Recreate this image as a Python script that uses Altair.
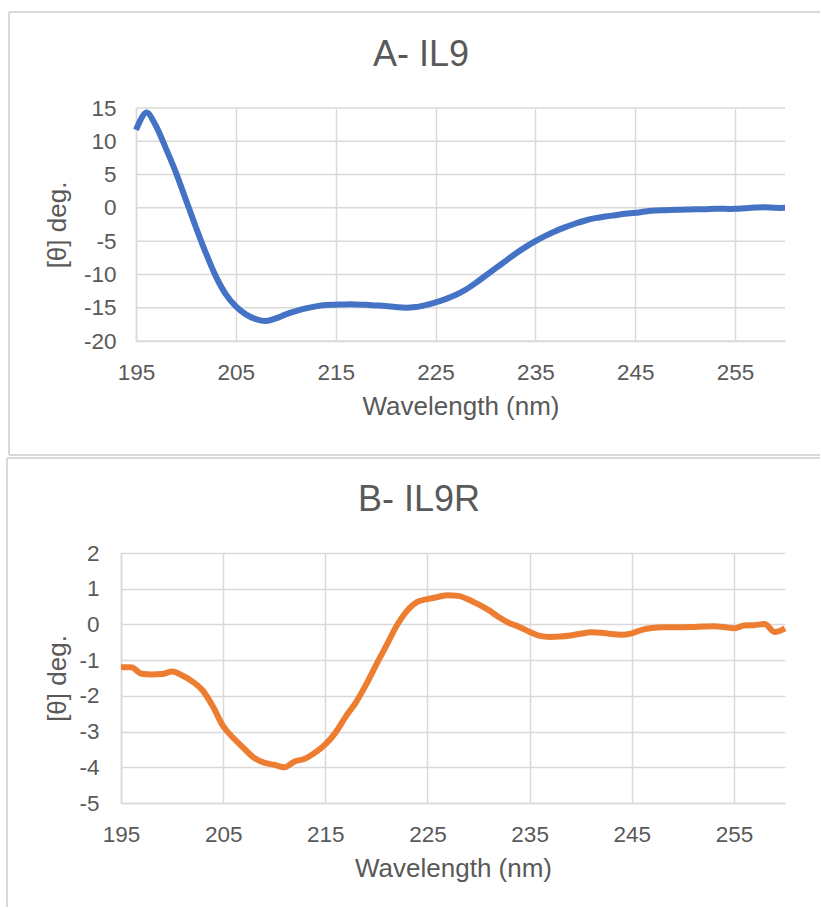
import altair as alt
import pandas as pd

# ---------------- data ----------------
wavelength = [195, 196, 197, 198, 199, 200, 201, 202, 203, 204, 205, 206, 207, 208, 209,
              210, 211, 212, 213, 214, 215, 216, 217, 218, 219, 220, 221, 222, 223, 224,
              225, 226, 227, 228, 229, 230, 231, 232, 233, 234, 235, 236, 237, 238, 239,
              240, 241, 242, 243, 244, 245, 246, 247, 248, 249, 250, 251, 252, 253, 254,
              255, 256, 257, 258, 259, 260]

il9 = [11.7, 14.3, 12.3, 8.9, 5.3, 1.2, -2.9, -6.8, -10.3, -13.0, -14.8, -16.0, -16.7, -17.0, -16.6,
       -16.0, -15.5, -15.1, -14.8, -14.6, -14.55, -14.5, -14.5, -14.55, -14.65, -14.75, -14.9, -15.0, -14.9, -14.6,
       -14.2, -13.7, -13.1, -12.3, -11.3, -10.2, -9.1, -8.0, -6.9, -5.9, -5.0, -4.2, -3.5, -2.9, -2.35,
       -1.9, -1.55, -1.3, -1.1, -0.9, -0.75, -0.55, -0.4, -0.35, -0.3, -0.25, -0.2, -0.2, -0.15, -0.15,
       -0.15, -0.05, 0.05, 0.1, 0.0, 0.0]

il9r = [-1.20, -1.20, -1.38, -1.40, -1.39, -1.32, -1.43, -1.60, -1.85, -2.30, -2.85, -3.18, -3.46, -3.73, -3.87,
        -3.93, -4.00, -3.84, -3.76, -3.59, -3.36, -3.03, -2.58, -2.18, -1.68, -1.12, -0.58, -0.03, 0.38, 0.63,
        0.71, 0.77, 0.82, 0.80, 0.70, 0.56, 0.40, 0.20, 0.04, -0.07, -0.21, -0.32, -0.35, -0.34, -0.31,
        -0.26, -0.22, -0.23, -0.27, -0.29, -0.25, -0.15, -0.10, -0.08, -0.08, -0.08, -0.07, -0.06, -0.05, -0.07,
        -0.11, -0.03, -0.02, 0.01, -0.21, -0.11]

x_ticks = [195, 205, 215, 225, 235, 245, 255]
il9_ticks = [-20, -15, -10, -5, 0, 5, 10, 15]
il9r_ticks = [-5, -4, -3, -2, -1, 0, 1, 2]
panel_titles = ["A- IL9", "B- IL9R"]
x_title = "Wavelength (nm)"
y_title = "[θ] deg."

# ---------------- style ----------------
FONT = "Liberation Sans"
TXT = "#595959"
GRID = "#d9d9d9"
FRAME = "#d9d9d9"
TICK_FS = 22.5
AXT_FS = 26
TITLE_FS = 36


def one(val):
    return pd.DataFrame({"t": [val]})


def frame_rules(left_x, top_y, bottom_y, right_x, with_bottom):
    layers = [
        alt.Chart(one(0)).mark_rule(color=FRAME, strokeWidth=2).encode(
            x=alt.value(left_x), y=alt.value(top_y), y2=alt.value(bottom_y)),
        alt.Chart(one(0)).mark_rule(color=FRAME, strokeWidth=2).encode(
            y=alt.value(top_y), x=alt.value(left_x), x2=alt.value(right_x)),
    ]
    if with_bottom:
        layers.append(
            alt.Chart(one(0)).mark_rule(color=FRAME, strokeWidth=2).encode(
                y=alt.value(bottom_y), x=alt.value(left_x), x2=alt.value(right_x)))
    return layers


def panel(values, color, interp, ydom, yticks, title, width, height, x0, y_offset,
          ylabpad, ytitle_x, frame, title_x):
    df = pd.DataFrame({"w": wavelength, "v": values})
    xscale = alt.Scale(domain=[195, 260], range=[x0, width], nice=False, zero=False)
    yscale = alt.Scale(domain=ydom, nice=False, zero=False)

    xaxis = alt.Axis(values=x_ticks, grid=True, gridColor=GRID, gridWidth=1.5,
                     domainColor=GRID, domainWidth=1.5, ticks=False, tickSize=0,
                     labelPadding=20, labelFont=FONT, labelFontSize=TICK_FS,
                     labelColor=TXT, labelFlush=False, labelOverlap=False,
                     labelExpr="'' + datum.value",
                     title=x_title, titleFont=FONT, titleFontSize=AXT_FS,
                     titleFontWeight="normal", titleColor=TXT,
                     titleBaseline="alphabetic", titleY=73,
                     titleX=(x0 + width) / 2)
    yaxis = alt.Axis(values=yticks, grid=(x0 == 0), gridColor=GRID, gridWidth=1.5,
                     domainColor=GRID, domainWidth=1.5, ticks=False, tickSize=0,
                     offset=y_offset,
                     labelPadding=ylabpad, labelFont=FONT, labelFontSize=TICK_FS,
                     labelColor=TXT, labelFlush=False, labelOverlap=False,
                     labelExpr="'' + datum.value",
                     title=y_title, titleFont=FONT, titleFontSize=AXT_FS,
                     titleFontWeight="normal", titleColor=TXT,
                     titleBaseline="middle", titleX=ytitle_x)

    layers = []
    if x0 != 0:
        gdf = pd.DataFrame({"v": yticks})
        layers.append(
            alt.Chart(gdf).mark_rule(color=GRID, strokeWidth=1.5).encode(
                y=alt.Y("v:Q", scale=yscale, axis=yaxis),
                x=alt.value(x0), x2=alt.value(width)))

    line = alt.Chart(df).mark_line(
        color=color, strokeWidth=6, interpolate=interp,
        strokeCap="butt", strokeJoin="round").encode(
        x=alt.X("w:Q", scale=xscale, axis=xaxis),
        y=alt.Y("v:Q", scale=yscale, axis=yaxis))
    layers.append(line)

    layers += frame_rules(*frame)

    layers.append(
        alt.Chart(one(title)).mark_text(
            font=FONT, fontSize=TITLE_FS, color=TXT, baseline="alphabetic",
            align="center").encode(text="t:N", x=alt.value(title_x), y=alt.value(-42)))

    return alt.layer(*layers).properties(width=width, height=height)


chart_a = panel(il9, "#4472C4", "cardinal", [-20, 15], il9_ticks, panel_titles[0],
                width=664, height=233, x0=15, y_offset=-15, ylabpad=20,
                ytitle_x=-79, frame=(-112, -96, 347, 699, True), title_x=300)

chart_b = panel(il9r, "#ED7D31", "monotone", [-5, 2], il9r_ticks, panel_titles[1],
                width=664, height=250, x0=0, y_offset=0, ylabpad=22,
                ytitle_x=-64, frame=(-114, -95, 354, 699, False), title_x=298)

chart = alt.concat(chart_a, chart_b, columns=1, spacing=1, align="none").properties(
    padding={"left": 6, "top": 11, "right": 0, "bottom": 0},
    background="white",
).configure_view(stroke=None)

chart.save("out.html", embed_options={"renderer": "svg", "actions": False})
